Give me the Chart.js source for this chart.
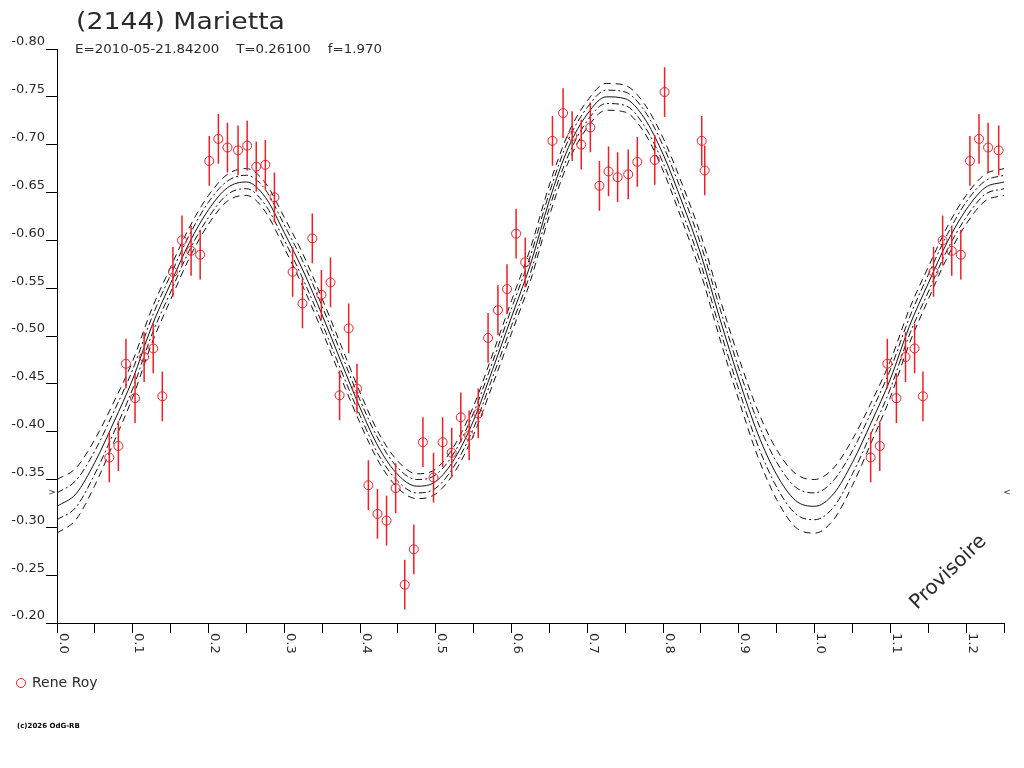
<!DOCTYPE html>
<html>
<head>
<meta charset="utf-8">
<title>(2144) Marietta</title>
<script src="https://cdn.jsdelivr.net/npm/chart.js@4.4.1/dist/chart.umd.min.js"></script>
<style>
  html, body { margin: 0; padding: 0; background: #fff; }
  canvas { display: block; }
</style>
</head>
<body>
<canvas id="lc" width="1024" height="768"></canvas>
<script>
// fit curve, every 0.025 in phase
const fitPhase = [0, 0.025, 0.05, 0.075, 0.1, 0.125, 0.15, 0.175, 0.2, 0.225,
  0.25, 0.275, 0.3, 0.325, 0.35, 0.375, 0.4, 0.425, 0.45, 0.475,
  0.5, 0.525, 0.55, 0.575, 0.6, 0.625, 0.65, 0.675, 0.7, 0.725,
  0.75, 0.775, 0.8, 0.825, 0.85, 0.875, 0.9, 0.925, 0.95, 0.975,
  1.0, 1.025, 1.05, 1.075, 1.1, 1.125, 1.15, 1.175, 1.2, 1.225, 1.25];

const fitMid = [-0.322, -0.335, -0.368, -0.410, -0.455, -0.510, -0.555, -0.598, -0.632, -0.655,
  -0.661, -0.645, -0.608, -0.568, -0.522, -0.473, -0.425, -0.383, -0.355, -0.343,
  -0.348, -0.372, -0.412, -0.465, -0.520, -0.575, -0.642, -0.697, -0.732, -0.750,
  -0.748, -0.728, -0.690, -0.640, -0.585, -0.518, -0.455, -0.398, -0.355, -0.328,
  -0.322, -0.335, -0.368, -0.410, -0.455, -0.510, -0.555, -0.598, -0.632, -0.655, -0.661];

const fitOuterHi = [-0.350, -0.362, -0.392, -0.431, -0.474, -0.528, -0.572, -0.614, -0.647, -0.669,
  -0.675, -0.660, -0.624, -0.585, -0.539, -0.490, -0.441, -0.398, -0.369, -0.356,
  -0.361, -0.386, -0.427, -0.481, -0.537, -0.592, -0.658, -0.712, -0.746, -0.764,
  -0.762, -0.743, -0.707, -0.659, -0.605, -0.539, -0.477, -0.422, -0.381, -0.356,
  -0.350, -0.362, -0.392, -0.431, -0.474, -0.528, -0.572, -0.614, -0.647, -0.669, -0.675];

const fitInnerHi = [-0.336, -0.349, -0.380, -0.421, -0.465, -0.519, -0.564, -0.606, -0.640, -0.662,
  -0.668, -0.653, -0.616, -0.577, -0.531, -0.482, -0.433, -0.391, -0.362, -0.350,
  -0.355, -0.379, -0.420, -0.473, -0.529, -0.584, -0.650, -0.705, -0.739, -0.757,
  -0.755, -0.736, -0.699, -0.650, -0.595, -0.529, -0.466, -0.410, -0.368, -0.342,
  -0.336, -0.349, -0.380, -0.421, -0.465, -0.519, -0.564, -0.606, -0.640, -0.662, -0.668];

const fitInnerLo = [-0.308, -0.321, -0.356, -0.399, -0.445, -0.501, -0.546, -0.590, -0.624, -0.648,
  -0.654, -0.637, -0.600, -0.559, -0.513, -0.464, -0.417, -0.375, -0.348, -0.336,
  -0.341, -0.365, -0.404, -0.457, -0.511, -0.566, -0.634, -0.689, -0.725, -0.743,
  -0.741, -0.720, -0.681, -0.630, -0.575, -0.507, -0.444, -0.386, -0.342, -0.314,
  -0.308, -0.321, -0.356, -0.399, -0.445, -0.501, -0.546, -0.590, -0.624, -0.648, -0.654];

const fitOuterLo = [-0.294, -0.308, -0.344, -0.389, -0.436, -0.492, -0.538, -0.582, -0.617, -0.641,
  -0.647, -0.630, -0.592, -0.551, -0.505, -0.456, -0.409, -0.368, -0.341, -0.330,
  -0.335, -0.358, -0.397, -0.449, -0.503, -0.558, -0.626, -0.682, -0.718, -0.736,
  -0.734, -0.713, -0.673, -0.621, -0.565, -0.497, -0.433, -0.374, -0.329, -0.300,
  -0.294, -0.308, -0.344, -0.389, -0.436, -0.492, -0.538, -0.582, -0.617, -0.641, -0.647];

// observations (Rene Roy)
const obsPhase = [0.069, 0.081, 0.091, 0.103, 0.115, 0.127, 0.139, 0.153, 0.165, 0.177,
  0.189, 0.201, 0.213, 0.225, 0.239, 0.251, 0.263, 0.275, 0.287, 0.311,
  0.324, 0.337, 0.349, 0.361, 0.373, 0.385, 0.396, 0.411, 0.423, 0.435,
  0.447, 0.459, 0.471, 0.483, 0.497, 0.509, 0.521, 0.533, 0.544, 0.556,
  0.569, 0.582, 0.594, 0.606, 0.618, 0.654, 0.668, 0.680, 0.692, 0.704,
  0.716, 0.728, 0.740, 0.754, 0.766, 0.789, 0.802, 0.851, 0.855,
  1.074, 1.086, 1.096, 1.108, 1.120, 1.132, 1.143, 1.157, 1.169, 1.181,
  1.193, 1.205, 1.217, 1.229, 1.243];

const obsMag = [-0.373, -0.385, -0.471, -0.435, -0.478, -0.487, -0.437, -0.567, -0.600, -0.589,
  -0.585, -0.683, -0.706, -0.697, -0.694, -0.699, -0.677, -0.679, -0.645, -0.567,
  -0.534, -0.602, -0.543, -0.556, -0.438, -0.508, -0.445, -0.344, -0.314, -0.307,
  -0.341, -0.240, -0.277, -0.389, -0.352, -0.389, -0.378, -0.415, -0.396, -0.419,
  -0.498, -0.527, -0.549, -0.607, -0.577, -0.704, -0.733, -0.709, -0.700, -0.718,
  -0.657, -0.672, -0.666, -0.669, -0.682, -0.684, -0.755, -0.704, -0.673,
  -0.373, -0.385, -0.471, -0.435, -0.478, -0.487, -0.437, -0.567, -0.600, -0.589,
  -0.585, -0.683, -0.706, -0.697, -0.694];

const obsErr = [0.026, 0.026, 0.026, 0.026, 0.026, 0.026, 0.026, 0.026, 0.026, 0.026,
  0.026, 0.026, 0.026, 0.026, 0.026, 0.026, 0.026, 0.026, 0.026, 0.026,
  0.026, 0.026, 0.026, 0.026, 0.026, 0.026, 0.026, 0.026, 0.026, 0.026,
  0.026, 0.026, 0.026, 0.026, 0.026, 0.026, 0.026, 0.026, 0.026, 0.026,
  0.026, 0.026, 0.026, 0.026, 0.026, 0.026, 0.026, 0.026, 0.026, 0.026,
  0.026, 0.026, 0.026, 0.026, 0.026, 0.026, 0.026, 0.026, 0.026,
  0.026, 0.026, 0.026, 0.026, 0.026, 0.026, 0.026, 0.026, 0.026, 0.026,
  0.026, 0.026, 0.026, 0.026, 0.026];

const xLabels = [0, 0.1, 0.2, 0.3, 0.4, 0.5, 0.6, 0.7, 0.8, 0.9, 1.0, 1.1, 1.2];
const meanMag = -0.336;

const titleText = '(2144) Marietta';
const infoText = 'E=2010-05-21.84200    T=0.26100    f=1.970';
const observer = 'Rene Roy';

const RED = 'rgb(236,32,40)';
const INK = '#2a2a2a';

function curve(arr) {
  return fitPhase.map((p, i) => ({ x: p, y: arr[i] }));
}

const errSegments = [];
obsPhase.forEach((p, i) => {
  errSegments.push({ x: p, y: obsMag[i] - obsErr[i] });
  errSegments.push({ x: p, y: obsMag[i] + obsErr[i] });
  errSegments.push({ x: p, y: null });
});

function fitLine(arr, dash) {
  return {
    type: 'line',
    data: curve(arr),
    borderColor: '#111',
    borderWidth: 1,
    borderDash: dash,
    pointRadius: 0,
    cubicInterpolationMode: 'monotone',
    fill: false,
    order: 3
  };
}

// the reference uses a wide, letter-spaced face: stretch text to its width
function wideText(ctx, text, x, y, width) {
  const w = ctx.measureText(text).width;
  ctx.save();
  ctx.translate(x, y);
  ctx.scale(width / w, 1);
  ctx.fillText(text, 0, 0);
  ctx.restore();
}

// titles, rotated x labels, legend and the small marks
const decorations = {
  id: 'decorations',
  afterDraw(chart) {
    const ctx = chart.ctx;
    const xs = chart.scales.x;
    const ys = chart.scales.y;
    ctx.save();
    ctx.fillStyle = INK;
    ctx.textBaseline = 'alphabetic';
    ctx.textAlign = 'left';

    ctx.font = '23px "DejaVu Sans"';
    wideText(ctx, titleText, 76, 29, 209);

    ctx.font = '12px "DejaVu Sans"';
    wideText(ctx, infoText, 75, 53, 307);

    ctx.font = '13px "DejaVu Sans"';
    ctx.textBaseline = 'middle';
    xLabels.forEach((v) => {
      const px = xs.getPixelForValue(v);
      ctx.save();
      ctx.translate(px + 6, 633);
      ctx.rotate(Math.PI / 2);
      ctx.fillText(v.toFixed(1), 0, 0);
      ctx.restore();
    });

    const my = ys.getPixelForValue(meanMag);
    ctx.font = '9px "DejaVu Sans"';
    ctx.textAlign = 'center';
    ctx.fillText('>', xs.left - 5, my);
    ctx.fillText('<', xs.right + 3, my);

    ctx.save();
    ctx.translate(917, 610);
    ctx.rotate(-44 * Math.PI / 180);
    ctx.font = '20px "DejaVu Sans"';
    ctx.textAlign = 'left';
    ctx.textBaseline = 'alphabetic';
    ctx.fillText('Provisoire', 0, 0);
    ctx.restore();

    ctx.strokeStyle = RED;
    ctx.lineWidth = 1;
    ctx.beginPath();
    ctx.arc(21, 683, 4.5, 0, Math.PI * 2);
    ctx.stroke();
    ctx.font = '14px "DejaVu Sans"';
    ctx.textAlign = 'left';
    ctx.textBaseline = 'middle';
    ctx.fillText(observer, 32, 683);

    ctx.font = 'bold 7px "DejaVu Sans"';
    ctx.textBaseline = 'alphabetic';
    ctx.fillStyle = '#000';
    ctx.fillText('(c)2026 OdG-RB', 17, 728);
    ctx.restore();
  }
};

const whiteBg = {
  id: 'whiteBg',
  beforeDraw(chart) {
    const ctx = chart.ctx;
    ctx.save();
    ctx.fillStyle = '#fff';
    ctx.fillRect(0, 0, chart.width, chart.height);
    ctx.restore();
  }
};

new Chart(document.getElementById('lc'), {
  type: 'scatter',
  data: {
    datasets: [
      {
        label: observer,
        data: obsPhase.map((p, i) => ({ x: p, y: obsMag[i] })),
        pointStyle: 'circle',
        pointRadius: 4.5,
        borderColor: RED,
        backgroundColor: 'rgba(0,0,0,0)',
        borderWidth: 1,
        order: 1
      },
      {
        type: 'line',
        label: 'err',
        data: errSegments,
        borderColor: RED,
        borderWidth: 1.5,
        pointRadius: 0,
        spanGaps: false,
        fill: false,
        order: 2
      },
      fitLine(fitOuterHi, [7, 5]),
      fitLine(fitInnerHi, [7, 3, 2, 3]),
      fitLine(fitMid, []),
      fitLine(fitInnerLo, [7, 3, 2, 3]),
      fitLine(fitOuterLo, [7, 5])
    ]
  },
  options: {
    responsive: false,
    animation: false,
    devicePixelRatio: 1,
    layout: { padding: { top: 49, right: 20, left: 0, bottom: 0 } },
    plugins: {
      legend: { display: false },
      tooltip: { enabled: false },
      title: { display: false }
    },
    scales: {
      x: {
        type: 'linear',
        min: 0,
        max: 1.25,
        ticks: { stepSize: 0.05, display: false, includeBounds: false },
        grid: { drawOnChartArea: false, tickLength: 10, color: '#000', tickColor: '#000' },
        border: { color: '#000', width: 1 },
        afterFit(scale) { scale.height = 145; }
      },
      y: {
        type: 'linear',
        min: -0.8,
        max: -0.2,
        reverse: true,
        ticks: {
          stepSize: 0.05,
          padding: 1,
          labelOffset: -7,
          color: INK,
          font: { family: 'DejaVu Sans', size: 13 },
          callback: (v) => v.toFixed(2)
        },
        grid: { drawOnChartArea: false, tickLength: 11, color: '#000', tickColor: '#000' },
        border: { color: '#000', width: 1 },
        afterFit(scale) { scale.width = 57; }
      }
    }
  },
  plugins: [whiteBg, decorations]
});
</script>
</body>
</html>
